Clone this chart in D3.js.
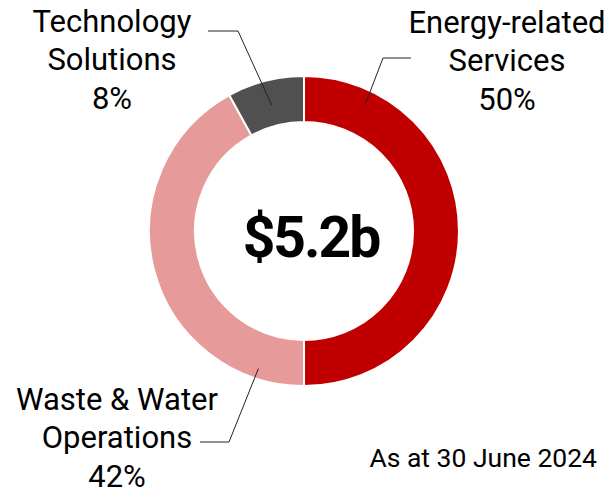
<!DOCTYPE html>
<html>
<head>
<meta charset="utf-8">
<script src="https://cdn.jsdelivr.net/npm/d3@7"></script>
<style>
  body { margin: 0; background: #fff; }
  svg text { font-family: Roboto, "Noto Sans", sans-serif; fill: #000; }
</style>
</head>
<body>
<div id="chart-container"></div>
<script>
// data
const categories = ["Energy-related Services", "Waste & Water Operations", "Technology Solutions"];
const labelLines = [["Energy-related", "Services"], ["Waste & Water", "Operations"], ["Technology", "Solutions"]];
const shares = [50, 42, 8];
const colours = ["#c00000", "#e69a9a", "#505050"];
const totalLabel = "$5.2b";
const noteLabel = "As at 30 June 2024";

const width = 612, height = 491;
const cx = 304, cy = 231;
const outerR = 155, innerR = 109;

// label placement: text centre, first baseline, leader anchor (offset from slice start, radius), bend and end
const labelPos = [
  { tx: 507, ty: 33, off: 0.45, r: 142, bx: 383, by: 58, ex: 411 },
  { tx: 117, ty: 410, off: 0.32, r: 145, bx: 229, by: 442, ex: 200 },
  { tx: 112, ty: 32, off: null, r: 130, bx: 238, by: 31, ex: 208 }
];
const lineGap = 38.3;

const svg = d3.select("#chart-container")
  .append("svg")
  .attr("width", width)
  .attr("height", height);

const g = svg.append("g").attr("transform", `translate(${cx},${cy})`);

const pie = d3.pie().sort(null).value((d) => d);
const arcs = pie(shares);
const arc = d3.arc().innerRadius(innerR).outerRadius(outerR);

//draw slices
g.selectAll("path.slice")
  .data(arcs)
  .join("path")
  .attr("class", "slice")
  .attr("d", arc)
  .attr("fill", (d, i) => colours[i])
  .attr("stroke", "#fff")
  .attr("stroke-width", 2);

//leader lines
arcs.forEach((d, i) => {
  const p = labelPos[i];
  const ang = p.off === null ? (d.startAngle + d.endAngle) / 2 : d.startAngle + p.off;
  const ax = cx + Math.sin(ang) * p.r;
  const ay = cy - Math.cos(ang) * p.r;
  svg.append("polyline")
    .attr("points", `${ax},${ay} ${p.bx},${p.by} ${p.ex},${p.by}`)
    .attr("fill", "none")
    .attr("stroke", "#222")
    .attr("stroke-width", 1);
});

//category labels
categories.forEach((c, i) => {
  const p = labelPos[i];
  const t = svg.append("text")
    .attr("text-anchor", "middle")
    .attr("font-size", 31);
  labelLines[i].concat([`${shares[i]}%`]).forEach((line, k) => {
    t.append("tspan")
      .attr("x", p.tx)
      .attr("y", p.ty + lineGap * k)
      .text(line);
  });
});

//centre total
svg.append("text")
  .attr("x", 311)
  .attr("y", 257)
  .attr("text-anchor", "middle")
  .attr("font-size", 57)
  .attr("font-weight", "bold")
  .attr("letter-spacing", -2)
  .text(totalLabel);

//date note
svg.append("text")
  .attr("x", 597)
  .attr("y", 467)
  .attr("text-anchor", "end")
  .attr("font-size", 26.5)
  .text(noteLabel);
</script>
</body>
</html>
